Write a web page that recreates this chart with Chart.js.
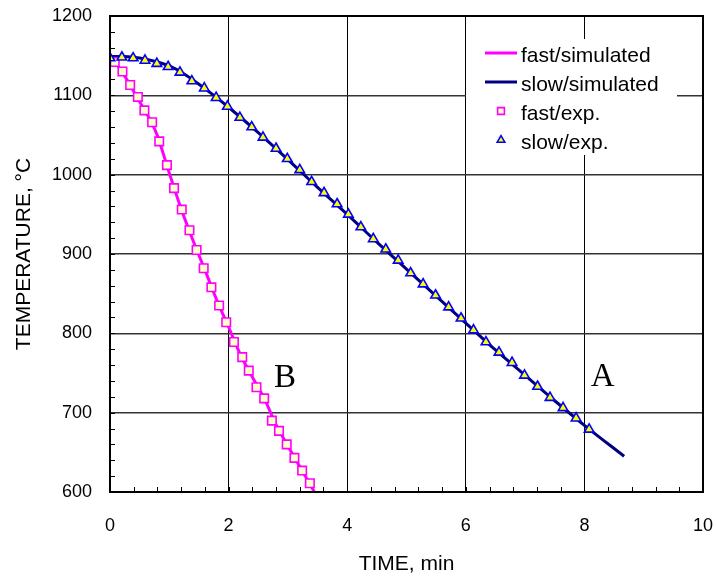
<!DOCTYPE html>
<html>
<head>
<meta charset="utf-8">
<script src="https://cdn.jsdelivr.net/npm/chart.js@4.4.1/dist/chart.umd.min.js"></script>
<style>
    html, body { margin: 0; padding: 0; background: #fff; }
    #wrap { width: 717px; height: 580px; }
</style>
</head>
<body>
<div id="wrap"><canvas id="coolingChart" width="717" height="580"></canvas></div>
<script>
// values
const fastSimTime = [0, 0.1, 0.2, 0.3, 0.4, 0.5, 0.6, 0.7, 0.8, 0.9, 1.0, 1.2, 1.4, 1.6, 1.8, 2.0, 2.2, 2.4, 2.6, 2.8, 3.0, 3.2, 3.47];
const fastSimTemp = [1148, 1140, 1130, 1118, 1105, 1092, 1079, 1066, 1049, 1026, 1002, 957, 917, 880, 842, 808, 773, 745, 718, 685, 658, 632, 597];

const slowSimTime = [0, 0.25, 0.5, 0.75, 1.0, 1.25, 1.5, 1.75, 2.0, 2.5, 3.0, 3.5, 4.0, 4.5, 5.0, 5.5, 6.0, 6.5, 7.0, 7.5, 8.0, 8.67];
const slowSimTemp = [1149, 1149, 1147, 1143, 1137, 1127, 1114, 1100, 1085, 1053, 1019, 984, 950, 915, 881, 847, 813, 779, 747, 715, 684, 645];

const fastExpTime = [0.08, 0.21, 0.34, 0.47, 0.58, 0.71, 0.83, 0.96, 1.08, 1.21, 1.34, 1.46, 1.58, 1.71, 1.84, 1.96, 2.09, 2.23, 2.34, 2.47, 2.60, 2.73, 2.85, 2.98, 3.11, 3.24, 3.37];
const fastExpTemp = [1142, 1130, 1113, 1098, 1081, 1066, 1042, 1012, 983, 956, 930, 905, 882, 858, 835, 814, 789, 770, 753, 732, 718, 690, 677, 660, 643, 627, 611];

const slowExpTime = [0, 0.20, 0.39, 0.59, 0.79, 0.98, 1.18, 1.38, 1.59, 1.79, 1.98, 2.19, 2.39, 2.58, 2.80, 2.99, 3.20, 3.40, 3.61, 3.83, 4.02, 4.23, 4.44, 4.65, 4.86, 5.07, 5.28, 5.49, 5.71, 5.92, 6.13, 6.34, 6.56, 6.78, 6.99, 7.21, 7.42, 7.64, 7.86, 8.08];
const slowExpTemp = [1147, 1148, 1147, 1144, 1140, 1136, 1129, 1118, 1109, 1097, 1086, 1072, 1060, 1047, 1033, 1020, 1006, 991, 977, 963, 950, 934, 919, 906, 892, 876, 862, 848, 833, 819, 804, 789, 776, 763, 747, 733, 719, 706, 693, 679];

const xTicks = [0, 2, 4, 6, 8, 10];
const yTicks = [600, 700, 800, 900, 1000, 1100, 1200];

// curve tags
const curveTags = ['A', 'B'];
const curveTagTime = [8.31, 2.95];
const curveTagTemp = [745, 743];

const legendLabels = ['fast/simulated', 'slow/simulated', 'fast/exp.', 'slow/exp.'];

const FONT = '"Liberation Sans", Arial, sans-serif';
const toPoints = (xs, ys) => xs.map((x, i) => ({ x: x, y: ys[i] }));

// inward minor ticks + frame
const frameTicks = {
    id: 'frameTicks',
    beforeDatasetsDraw(chart) {
        const { ctx, chartArea: a, scales: { x, y } } = chart;
        ctx.save();
        ctx.strokeStyle = '#000';
        ctx.lineWidth = 1;
        for (let v = 0.4; v < 10; v += 0.4) {
            const px = Math.round(x.getPixelForValue(v)) + 0.5;
            ctx.beginPath();
            ctx.moveTo(px, a.bottom);
            ctx.lineTo(px, a.bottom - 5);
            ctx.stroke();
        }
        for (let v = 620; v < 1200; v += 20) {
            const py = Math.round(y.getPixelForValue(v)) + 0.5;
            ctx.beginPath();
            ctx.moveTo(a.left, py);
            ctx.lineTo(a.left + 5, py);
            ctx.stroke();
        }
        ctx.restore();
    },
    afterDraw(chart) {
        const { ctx, chartArea: a } = chart;
        ctx.save();
        ctx.strokeStyle = '#000';
        ctx.lineWidth = 2;
        ctx.strokeRect(a.left, a.top, a.right - a.left, a.bottom - a.top);
        ctx.restore();
    }
};

// legend box inside the plot
const boxLegend = {
    id: 'boxLegend',
    afterDraw(chart) {
        const { ctx } = chart;
        const left = 466, top = 39, w = 211, h = 116;
        ctx.save();
        ctx.fillStyle = '#fff';
        ctx.fillRect(left, top, w, h);
        ctx.font = '21px ' + FONT;
        ctx.textBaseline = 'middle';
        ctx.textAlign = 'left';
        legendLabels.forEach((label, i) => {
            const ds = chart.data.datasets.find(d => d.label === label);
            const cy = 56 + i * 29;
            if (ds.showLine) {
                ctx.strokeStyle = ds.borderColor;
                ctx.lineWidth = 3;
                ctx.beginPath();
                ctx.moveTo(485, cy - 3);
                ctx.lineTo(517, cy - 3);
                ctx.stroke();
            } else {
                ctx.fillStyle = ds.pointBackgroundColor;
                ctx.strokeStyle = ds.pointBorderColor;
                ctx.lineWidth = ds.borderWidth;
                Chart.helpers.drawPoint(ctx, {
                    pointStyle: ds.pointStyle,
                    radius: ds.pointRadius * 0.8,
                    borderWidth: ds.borderWidth,
                    rotation: 0
                }, 501, cy - 3);
            }
            ctx.fillStyle = '#000';
            ctx.fillText(label, 521, cy);
        });
        ctx.restore();
    }
};

const curveTagPlugin = {
    id: 'curveTags',
    afterDatasetsDraw(chart) {
        const { ctx, scales: { x, y } } = chart;
        ctx.save();
        ctx.font = '33px "Liberation Serif", "Times New Roman", serif';
        ctx.fillStyle = '#000';
        ctx.textAlign = 'center';
        ctx.textBaseline = 'middle';
        curveTags.forEach((t, i) => {
            ctx.fillText(t, x.getPixelForValue(curveTagTime[i]), y.getPixelForValue(curveTagTemp[i]));
        });
        ctx.restore();
    }
};

new Chart(document.getElementById('coolingChart').getContext('2d'), {
    type: 'scatter',
    data: {
        datasets: [
            {
                label: 'slow/exp.',
                data: toPoints(slowExpTime, slowExpTemp),
                pointStyle: 'triangle',
                pointRadius: 5.5,
                borderWidth: 1.6,
                pointBorderColor: '#0000FF',
                pointBackgroundColor: '#FFFF00',
                borderColor: '#0000FF',
                backgroundColor: '#FFFF00',
                showLine: false
            },
            {
                label: 'fast/exp.',
                data: toPoints(fastExpTime, fastExpTemp),
                pointStyle: 'rect',
                pointRadius: 6,
                borderWidth: 1.6,
                pointBorderColor: '#FF00FF',
                pointBackgroundColor: '#FFFFCC',
                borderColor: '#FF00FF',
                backgroundColor: '#FFFFCC',
                showLine: false
            },
            {
                label: 'slow/simulated',
                data: toPoints(slowSimTime, slowSimTemp),
                showLine: true,
                borderColor: '#000080',
                borderWidth: 3,
                pointRadius: 0,
                cubicInterpolationMode: 'monotone'
            },
            {
                label: 'fast/simulated',
                data: toPoints(fastSimTime, fastSimTemp),
                showLine: true,
                borderColor: '#FF00FF',
                borderWidth: 3,
                pointRadius: 0,
                cubicInterpolationMode: 'monotone'
            }
        ]
    },
    options: {
        responsive: false,
        animation: false,
        layout: { padding: { top: 16, right: 14, left: 0, bottom: 0 } },
        plugins: {
            legend: { display: false },
            tooltip: { enabled: false }
        },
        scales: {
            x: {
                type: 'linear',
                min: 0,
                max: 10,
                afterFit: s => {
                    s.height = 88;
                    s.paddingLeft = 0;
                    s.paddingRight = 0;
                },
                afterBuildTicks: s => { s.ticks = xTicks.map(v => ({ value: v })); },
                ticks: { color: '#000', padding: 23, font: { family: FONT, size: 18 }, callback: v => String(v) },
                grid: { color: '#000', lineWidth: 1, drawTicks: false },
                border: { color: '#000', width: 2 },
                title: {
                    display: true,
                    text: 'TIME, min',
                    color: '#000',
                    font: { family: FONT, size: 21 },
                    padding: { top: 0, bottom: 3 }
                }
            },
            y: {
                type: 'linear',
                min: 600,
                max: 1200,
                afterFit: s => {
                    s.width = 110;
                    s.paddingTop = 0;
                    s.paddingBottom = 0;
                },
                afterBuildTicks: s => { s.ticks = yTicks.map(v => ({ value: v })); },
                ticks: { color: '#000', padding: 18, font: { family: FONT, size: 18 }, callback: v => String(v) },
                grid: { color: '#333', lineWidth: 1.5, drawTicks: false },
                border: { color: '#000', width: 2 },
                title: {
                    display: true,
                    text: 'TEMPERATURE, °C',
                    color: '#000',
                    font: { family: FONT, size: 21 },
                    padding: { top: 12, bottom: 0 }
                }
            }
        }
    },
    plugins: [frameTicks, curveTagPlugin, boxLegend]
});
</script>
</body>
</html>
